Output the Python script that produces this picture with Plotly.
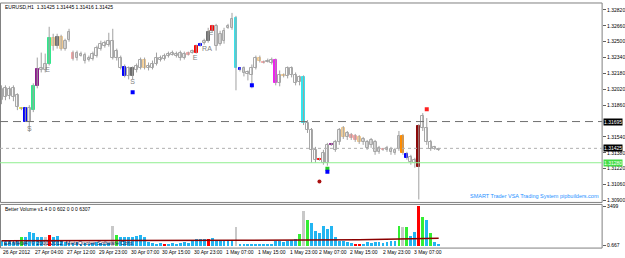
import plotly.graph_objects as go

W, H = 625, 258

# ---------------- data ----------------
bar_index = list(range(111))

open_ = [1.3191, 1.3194, 1.3195, 1.3194, 1.3184, 1.3182, 1.3183, 1.3169, 1.3181, 1.3205,
         1.3221, 1.3221, 1.3228, 1.3246, 1.3255, 1.3243, 1.3243, 1.3252, 1.3233, 1.3234,
         1.3236, 1.3231, 1.3232, 1.3233, 1.3236, 1.3243, 1.3246, 1.3247, 1.3234, 1.3234,
         1.3224, 1.3225, 1.3215, 1.3223, 1.3221, 1.3224, 1.3223, 1.3223, 1.3224, 1.3228,
         1.3232, 1.3233, 1.3236, 1.3237, 1.3236, 1.3234, 1.3234, 1.3237, 1.3239, 1.3246,
         1.3248, 1.3249, 1.3260, 1.3266, 1.3246, 1.3248, 1.3251, 1.3264, 1.3264, 1.3274,
         1.3223, 1.3218, 1.3217, 1.3216, 1.3224, 1.3231, 1.3229, 1.3230, 1.3229, 1.3232,
         1.3208, 1.3215, 1.3215, 1.3216, 1.3208, 1.3209, 1.3214, 1.3161, 1.3141, 1.3131,
         1.3132, 1.3128, 1.3128, 1.3146, 1.3141, 1.3149, 1.3154, 1.3154, 1.3153, 1.3151,
         1.3149, 1.3149, 1.3143, 1.3146, 1.3139, 1.3139, 1.3141, 1.3141, 1.3139, 1.3138,
         1.3142, 1.3138, 1.3137, 1.3129, 1.3128, 1.3165, 1.3163, 1.3149, 1.3142, 1.3142,
         1.3141]
close = [1.3202, 1.3203, 1.3202, 1.3203, 1.3196, 1.3183, 1.3169, 1.3183, 1.3205, 1.3222,
         1.3223, 1.3228, 1.3254, 1.3254, 1.3246, 1.3255, 1.3251, 1.3260, 1.3239, 1.3239,
         1.3238, 1.3237, 1.3234, 1.3238, 1.3244, 1.3248, 1.3249, 1.3251, 1.3251, 1.3241,
         1.3234, 1.3215, 1.3223, 1.3215, 1.3226, 1.3232, 1.3232, 1.3226, 1.3228, 1.3234,
         1.3234, 1.3236, 1.3238, 1.3239, 1.3238, 1.3239, 1.3238, 1.3239, 1.3241, 1.3239,
         1.3246, 1.3251, 1.3251, 1.3261, 1.3266, 1.3258, 1.3261, 1.3266, 1.3273, 1.3223,
         1.3221, 1.3223, 1.3219, 1.3224, 1.3234, 1.3234, 1.3230, 1.3231, 1.3232, 1.3208,
         1.3216, 1.3216, 1.3223, 1.3223, 1.3216, 1.3214, 1.3168, 1.3168, 1.3161, 1.3141,
         1.3131, 1.3138, 1.3146, 1.3147, 1.3149, 1.3161, 1.3163, 1.3158, 1.3156, 1.3155,
         1.3154, 1.3152, 1.3149, 1.3151, 1.3149, 1.3143, 1.3142, 1.3143, 1.3142, 1.3141,
         1.3155, 1.3155, 1.3133, 1.3134, 1.3131, 1.3124, 1.3175, 1.3163, 1.3149, 1.3144,
         1.3142]
high = [1.3206, 1.3206, 1.3205, 1.3206, 1.3198, 1.3184, 1.3184, 1.3186, 1.3208, 1.3234,
        1.3239, 1.3238, 1.3265, 1.3258, 1.3258, 1.3257, 1.3253, 1.3263, 1.3241, 1.3241,
        1.3240, 1.3239, 1.3236, 1.3240, 1.3246, 1.3251, 1.3251, 1.3259, 1.3263, 1.3243,
        1.3236, 1.3227, 1.3225, 1.3225, 1.3228, 1.3234, 1.3234, 1.3229, 1.3231, 1.3239,
        1.3236, 1.3238, 1.3240, 1.3241, 1.3240, 1.3241, 1.3240, 1.3240, 1.3242, 1.3247,
        1.3249, 1.3253, 1.3264, 1.3267, 1.3268, 1.3261, 1.3264, 1.3268, 1.3279, 1.3276,
        1.3224, 1.3225, 1.3221, 1.3227, 1.3236, 1.3236, 1.3231, 1.3233, 1.3234, 1.3233,
        1.3221, 1.3218, 1.3225, 1.3225, 1.3219, 1.3216, 1.3216, 1.3171, 1.3163, 1.3144,
        1.3133, 1.3141, 1.3148, 1.3148, 1.3151, 1.3163, 1.3165, 1.3160, 1.3158, 1.3157,
        1.3156, 1.3154, 1.3151, 1.3153, 1.3151, 1.3145, 1.3143, 1.3145, 1.3144, 1.3143,
        1.3160, 1.3157, 1.3139, 1.3136, 1.3133, 1.3167, 1.3178, 1.3173, 1.3151, 1.3145,
        1.3143]
low = [1.3187, 1.3191, 1.3192, 1.3190, 1.3181, 1.3181, 1.3169, 1.3159, 1.3179, 1.3203,
       1.3219, 1.3219, 1.3226, 1.3241, 1.3243, 1.3241, 1.3241, 1.3250, 1.3231, 1.3231,
       1.3235, 1.3228, 1.3230, 1.3231, 1.3234, 1.3241, 1.3244, 1.3245, 1.3232, 1.3231,
       1.3222, 1.3214, 1.3212, 1.3212, 1.3219, 1.3222, 1.3222, 1.3221, 1.3222, 1.3226,
       1.3230, 1.3231, 1.3234, 1.3236, 1.3234, 1.3231, 1.3232, 1.3236, 1.3238, 1.3238,
       1.3245, 1.3247, 1.3249, 1.3259, 1.3241, 1.3246, 1.3248, 1.3263, 1.3262, 1.3201,
       1.3220, 1.3215, 1.3211, 1.3203, 1.3222, 1.3229, 1.3228, 1.3229, 1.3227, 1.3206,
       1.3205, 1.3214, 1.3213, 1.3214, 1.3206, 1.3206, 1.3166, 1.3158, 1.3128, 1.3128,
       1.3130, 1.3126, 1.3125, 1.3145, 1.3139, 1.3146, 1.3152, 1.3151, 1.3151, 1.3149,
       1.3147, 1.3146, 1.3141, 1.3143, 1.3136, 1.3137, 1.3140, 1.3139, 1.3136, 1.3136,
       1.3140, 1.3136, 1.3131, 1.3126, 1.3123, 1.3091, 1.3160, 1.3146, 1.3140, 1.3141,
       1.3140]

# signal class of each candle (default = normal)
candle_signal = {5: 'y', 6: 'b', 8: 'g', 9: 'p', 12: 'g', 13: 'w', 14: 'k', 15: 'w', 18: 'pk',
                 31: 'b', 33: 'k', 36: 'w', 47: 'pk', 49: 'r', 50: 'b', 52: 'k', 53: 'r',
                 59: 'c', 60: 'b', 65: 'w', 66: 'pk', 69: 'm', 71: 'w', 76: 'c', 80: 'r',
                 83: 'p', 86: 'w', 88: 'pk', 89: 'pk', 90: 'w', 96: 'pk', 101: 'o', 102: 'b',
                 105: 'dr'}

volume = [438, 350, 438, 350, 525, 788, 788, 1225, 1138, 788,
          788, 788, 963, 788, 875, 438, 350, 263, 263, 350,
          175, 263, 175, 263, 350, 263, 175, 263, 1750, 963,
          788, 788, 788, 788, 875, 963, 788, 350, 263, 175,
          263, 88, 175, 263, 175, 263, 350, 263, 438, 613,
          613, 613, 613, 700, 438, 438, 438, 438, 438, 1663,
          175, 88, 175, 88, 88, 175, 88, 175, 175, 438,
          438, 350, 438, 525, 613, 1050, 3063, 2275, 2013, 1313,
          1138, 1750, 1488, 1750, 788, 438, 438, 350, 263, 88,
          88, 175, 350, 263, 350, 350, 263, 350, 438, 438,
          1750, 1663, 1663, 875, 1225, 3500, 2538, 2275, 1138, 350,
          88]
volume_signal = {5: 'g', 11: 'w', 12: 'r', 28: 'w', 29: 'g', 41: 'r', 52: 'r', 59: 'w',
                 75: 'g', 76: 'w', 77: 'g', 89: 'r', 90: 'r', 100: 'g', 101: 'w', 102: 'g',
                 105: 'r', 106: 'g', 108: 'g'}

vol_ma_index = [0, 30, 60, 90, 100, 110]
vol_ma_value = [460, 470, 520, 560, 620, 700]

# signal markers
dot_index = [33, 63, 82, 82, 80, 107]
dot_price = [1.3199, 1.3206, 1.3122, 1.3119, 1.3109, 1.3182]
dot_color = ['#0000FF', '#0000FF', '#22CC22', '#0000FF', '#AA1111', '#FF2020']
dot_symbol = ['square', 'square', 'square', 'square', 'circle', 'square']

sig_text = ['S', 'E', 'S', 'E', 'RA', 'E']
sig_index = [7, 11.6, 33, 48.7, 51.7, 52.7]
sig_price = [1.3162, 1.3221, 1.3209, 1.3233, 1.3242, 1.3258]

time_labels = ['26 Apr 2012', '27 Apr 04:00', '27 Apr 12:00', '29 Apr 23:00', '30 Apr 07:00',
               '30 Apr 15:00', '30 Apr 23:00', '1 May 07:00', '1 May 15:00', '1 May 23:00',
               '2 May 07:00', '2 May 15:00', '2 May 23:00', '3 May 07:00']
time_label_index = [0, 8, 16, 24, 32, 40, 48, 56, 64, 72, 79.4, 87.1, 95.4, 103.4]

price_ticks = [1.3282, 1.3266, 1.3250, 1.3234, 1.3218, 1.3202, 1.3186,
               1.3154, 1.3138, 1.3122, 1.3106, 1.3090]

resistance_level = 1.31695
bid_level = 1.31425
support_level = 1.31280

# ---------------- styles ----------------
fill_map = {'n': '#FFFFFF', 'y': '#E8E040', 'b': '#0000FF', 'g': '#33E68C', 'p': '#8B1A8B',
            'w': '#F8D9A8', 'k': '#6E6E6E', 'pk': '#F2A6A6', 'r': '#FF0000', 'c': '#33E5EE',
            'm': '#EE22EE', 'o': '#FF8C00', 'dr': '#8B0A0A'}
edge_map = dict(fill_map, n='#A8A8A8', w='#EFC890')
vol_color_map = {'b': '#22B5F2', 'g': '#33EE33', 'r': '#FF0000', 'w': '#C8C8C8'}

FONT = 'Liberation Sans'
px_x = lambda px: px / W
px_y = lambda px: (H - px) / H

X_DOM = [0, px_x(606)]
Y1_DOM = [px_y(203), px_y(2)]
Y2_DOM = [px_y(249), px_y(205)]

fig = go.Figure()

# wicks
wx, wy = [], []
for i, hi, lo in zip(bar_index, high, low):
    wx += [i, i, None]
    wy += [lo, hi, None]
fig.add_trace(go.Scatter(x=wx, y=wy, mode='lines', line=dict(color='#A0A0A0', width=1),
                         hoverinfo='skip', xaxis='x', yaxis='y'))

# bodies
cls = [candle_signal.get(i, 'n') for i in bar_index]
base = [min(o, c) for o, c in zip(open_, close)]
height = [max(abs(c - o), 0.00006) for o, c in zip(open_, close)]
fig.add_trace(go.Bar(x=bar_index, y=height, base=base, width=0.72,
                     marker=dict(color=[fill_map[k] for k in cls],
                                 line=dict(color=[edge_map[k] for k in cls], width=1)),
                     xaxis='x', yaxis='y', hoverinfo='skip'))

# signal dots
for sym in ['square', 'circle']:
    sel = [j for j, s in enumerate(dot_symbol) if s == sym]
    fig.add_trace(go.Scatter(x=[dot_index[j] for j in sel], y=[dot_price[j] for j in sel],
                             mode='markers',
                             marker=dict(symbol=sym, size=4, color=[dot_color[j] for j in sel],
                                         line=dict(width=0)),
                             xaxis='x', yaxis='y', hoverinfo='skip'))

# signal letters
fig.add_trace(go.Scatter(x=sig_index, y=sig_price, mode='text', text=sig_text,
                         textfont=dict(family=FONT, size=7, color='#808080'),
                         xaxis='x', yaxis='y', hoverinfo='skip'))

# volume bars
vcls = [volume_signal.get(i, 'b') for i in bar_index]
fig.add_trace(go.Bar(x=bar_index, y=volume, width=0.72,
                     marker=dict(color=[vol_color_map[k] for k in vcls], line=dict(width=0)),
                     xaxis='x', yaxis='y2', hoverinfo='skip'))
fig.add_trace(go.Scatter(x=vol_ma_index, y=vol_ma_value, mode='lines',
                         line=dict(color='#8B0000', width=1.5),
                         xaxis='x', yaxis='y2', hoverinfo='skip'))

shapes = [
    dict(type='rect', xref='paper', yref='paper', x0=0.0008, x1=X_DOM[1], y0=Y1_DOM[0], y1=Y1_DOM[1],
         line=dict(color='#808080', width=1)),
    dict(type='rect', xref='paper', yref='paper', x0=0.0008, x1=X_DOM[1], y0=Y2_DOM[0], y1=Y2_DOM[1],
         line=dict(color='#808080', width=1)),
    dict(type='line', xref='paper', yref='y', x0=0, x1=X_DOM[1], y0=resistance_level, y1=resistance_level,
         line=dict(color='#707070', width=1, dash='8px,5px')),
    dict(type='line', xref='paper', yref='y', x0=0, x1=X_DOM[1], y0=bid_level, y1=bid_level,
         line=dict(color='#B0B0B0', width=1, dash='dot')),
    dict(type='line', xref='paper', yref='y', x0=0, x1=X_DOM[1], y0=support_level, y1=support_level,
         line=dict(color='#90EE90', width=1)),
]

small = dict(family=FONT, size=5, color='#000000')
annotations = [
    dict(text='EURUSD,H1  1.31425 1.31445 1.31416 1.31425', xref='paper', yref='paper',
         x=px_x(3), y=px_y(6), xanchor='left', yanchor='middle', showarrow=False, font=small),
    dict(text='Better Volume v1.4 0 0 602 0 0 0 6307', xref='paper', yref='paper',
         x=px_x(3), y=px_y(210), xanchor='left', yanchor='middle', showarrow=False, font=small),
    dict(text='SMART Trader VSA Trading System pipbuilders.com', xref='paper', yref='paper',
         x=px_x(605), y=px_y(197), xanchor='right', yanchor='middle', showarrow=False,
         font=dict(family=FONT, size=5.5, color='#1E90FF')),
    dict(text='EA Meta4, © 2001-2012, MetaQuotes Software Corp.', xref='paper', yref='paper',
         x=px_x(2), y=px_y(244), xanchor='left', yanchor='middle', showarrow=False,
         font=dict(family=FONT, size=5.5, color='#1A1A50')),
]
for lvl, bg, fg in [(resistance_level, '#000000', '#FFFFFF'), (bid_level, '#000000', '#FFFFFF'),
                    (support_level, '#44DD44', '#FFFFFF')]:
    annotations.append(dict(text=f'{lvl:.5f}', xref='paper', yref='y', x=px_x(607), y=lvl,
                            xanchor='left', yanchor='middle', showarrow=False, bgcolor=bg,
                            borderpad=0, font=dict(family=FONT, size=5, color=fg)))
for lab, idx in zip(time_labels, time_label_index):
    annotations.append(dict(text=lab, xref='x', yref='paper', x=idx, y=px_y(253),
                            xanchor='left', yanchor='middle', showarrow=False, font=small))

fig.update_layout(
    width=W, height=H, margin=dict(l=0, r=0, t=0, b=0),
    paper_bgcolor='#FFFFFF', plot_bgcolor='#FFFFFF',
    showlegend=False, barmode='overlay', bargap=0,
    xaxis=dict(domain=X_DOM, range=[-0.375, 606 / 4 - 0.375], anchor='y2',
               showgrid=False, zeroline=False, showticklabels=False, ticks=''),
    yaxis=dict(domain=Y1_DOM, range=[1.3088, 1.3289], side='right', anchor='x',
               tickvals=price_ticks, ticktext=[f'{v:.5f}' for v in price_ticks],
               ticks='outside', ticklen=3, tickcolor='#606060', tickfont=small,
               showgrid=False, zeroline=False),
    yaxis2=dict(domain=Y2_DOM, range=[-175, 3675], side='right', anchor='x',
                tickvals=[3500, 88], ticktext=['3499', '0.667'],
                ticks='outside', ticklen=3, tickcolor='#606060', tickfont=small,
                showgrid=False, zeroline=False),
    shapes=shapes, annotations=annotations,
)

fig.write_html('out.html')
